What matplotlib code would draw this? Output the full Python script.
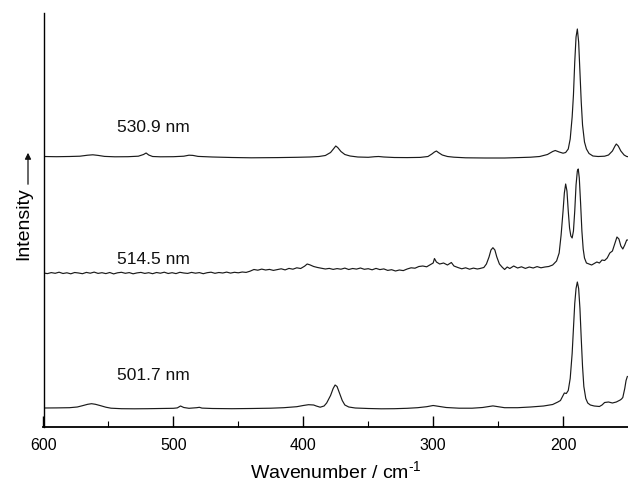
import matplotlib
matplotlib.use("Agg")
import matplotlib.pyplot as plt
from matplotlib.patches import FancyArrowPatch
from matplotlib.ticker import FixedLocator

plt.rcParams['font.family'] = ['Liberation Sans', 'DejaVu Sans']
plt.rcParams['mathtext.fontset'] = 'custom'
plt.rcParams['mathtext.rm'] = 'Liberation Sans'
plt.rcParams['mathtext.it'] = 'Liberation Sans:italic'

# ---------------- data: (wavenumber / cm-1, intensity, arbitrary units) ----------------
labels = ["530.9 nm", "514.5 nm", "501.7 nm"]
offsets = [270, 154, 18.5]

spectrum_530 = [
    (600, 0.5), (590, 0.3), (580, 0.5), (572, 0.8), (566, 1.8), (562, 2.2), (558, 1.6), (553, 0.6),
    (545, 0.2), (535, 0.3), (527, 0.8), (523, 2.5), (521, 4.0), (519, 2.0), (516, 0.5), (510, 0.2),
    (500, 0.3), (492, 0.8), (488, 1.8), (485, 1.6), (481, 0.6), (470, 0.0), (455, -0.5), (440, -0.8),
    (420, -0.6), (405, -0.3), (395, 0.0), (388, 0.5), (383, 1.5), (379, 4.5), (376.5, 8.5), (375, 11.0),
    (373.5, 9.5), (371, 5.5), (368, 2.5), (364, 1.0), (358, 0.0), (350, -0.3), (345, 0.3), (342, 0.5),
    (338, 0.0), (330, -0.5), (320, -0.6), (310, -0.4), (304, 0.5), (301, 3.0), (299, 5.0), (297.5, 6.0),
    (296, 4.5), (293, 2.0), (289, 0.5), (284, -0.2), (275, -0.8), (260, -1.0), (245, -1.0), (232, -0.5),
    (225, -0.2), (218, 0.5), (212, 2.5), (208, 5.5), (206, 6.5), (203, 5.0), (200, 3.8), (198, 4.5),
    (196, 8.0), (194.5, 18), (193, 40), (192, 62), (191, 95), (190, 120), (189, 128), (188, 115),
    (187, 85), (186, 55), (185, 32), (183.5, 15), (182, 8), (180, 3.5), (177, 1.0), (173, 0.5),
    (168, 0.8), (165, 2.0), (162, 6.0), (160, 11), (159, 13), (157.5, 11), (155.5, 6.0), (153, 2.0),
    (151, 0.5), (150, 0.3),
]

spectrum_514 = [
    (600, 0.0), (597, -0.6), (594, 0.4), (591, -0.3), (588, 0.8), (585, -0.5), (582, 0.2), (579, -0.8),
    (576, 0.5), (573, 0.0), (570, -0.7), (567, 0.6), (564, -0.2), (561, 0.9), (558, -0.4), (555, 0.3),
    (552, -0.6), (549, 0.5), (546, -0.9), (543, 0.2), (540, 0.7), (537, -0.3), (534, 0.4), (531, -0.8),
    (528, 0.1), (525, 0.6), (522, -0.4), (519, 0.3), (516, -0.7), (513, 0.5), (510, -0.2), (507, 0.8),
    (504, -0.5), (501, 0.3), (498, -0.6), (495, 0.7), (492, 0.0), (489, -0.4), (486, 0.6), (483, -0.2),
    (480, 0.4), (477, -0.7), (474, 0.3), (471, 0.8), (468, -0.3), (465, 0.5), (462, 0.0), (459, 0.9),
    (456, -0.1), (453, 0.7), (450, 0.2), (447, 1.0), (444, 0.6), (441, 1.8), (438, 3.5), (435, 2.8),
    (432, 3.9), (429, 3.0), (426, 3.6), (423, 2.6), (420, 3.4), (417, 4.2), (414, 3.1), (411, 4.6),
    (408, 3.8), (405, 5.2), (402, 4.5), (399, 6.8), (397, 9.0), (395, 8.2), (392, 6.5), (389, 5.5),
    (386, 4.8), (383, 4.0), (380, 4.6), (377, 3.6), (374, 4.4), (371, 3.8), (368, 4.9), (365, 3.5),
    (362, 4.5), (359, 3.9), (356, 5.0), (353, 3.7), (350, 4.3), (347, 3.2), (344, 4.6), (341, 3.4),
    (338, 4.1), (335, 2.6), (332, 3.3), (329, 2.0), (326, 3.0), (323, 2.4), (320, 4.0), (317, 5.2),
    (314, 4.8), (311, 6.5), (308, 7.0), (305, 6.2), (302, 8.5), (300, 10.0), (299, 14.5), (297.5, 11.0),
    (295, 9.0), (292, 10.0), (289, 8.0), (286, 10.5), (284, 7.0), (281, 5.5), (278, 4.2), (275, 5.2),
    (272, 3.8), (269, 4.9), (266, 4.0), (264, 4.5), (261, 5.5), (259, 9.0), (257, 16.0), (255.5, 23.0),
    (254, 25.3), (252.5, 23.0), (251, 16.0), (249, 9.0), (247, 6.0), (245, 3.5), (243, 6.0), (241, 4.5),
    (238, 7.0), (235, 5.0), (232, 6.2), (229, 4.6), (226, 6.0), (223, 5.0), (220, 6.4), (217, 5.2),
    (214, 6.0), (211, 6.5), (208, 8.0), (205, 12.0), (203, 20.0), (201.5, 38.0), (200, 62.0), (199, 80.0),
    (198, 89.0), (197, 82.0), (196, 62.0), (195, 45.0), (194, 37.0), (193, 35.0), (192, 42.0), (191, 62.0),
    (190, 88.0), (189, 102.0), (188.3, 104.0), (187.5, 95.0), (186.5, 70.0), (185.5, 42.0), (184.5, 24.0),
    (183.5, 15.0), (182, 10.0), (180, 9.0), (178, 8.0), (176, 9.5), (174, 11.0), (172, 10.0), (170, 13.0),
    (168, 12.5), (166, 15.0), (164, 20.0), (162, 22.0), (160, 30.0), (158.5, 36.0), (157, 34.0),
    (155.5, 27.0), (154, 24.0), (152.5, 28.0), (151, 33.0), (150, 33.0),
]

spectrum_501 = [
    (600, 0.5), (590, 0.6), (580, 0.8), (574, 1.5), (570, 2.8), (566, 4.2), (563, 4.8), (560, 4.2),
    (556, 2.8), (552, 1.3), (548, 0.3), (540, -0.2), (530, -0.3), (520, -0.2), (510, 0.0), (500, 0.2),
    (497, 0.6), (494.5, 2.5), (492, 1.0), (488, 0.2), (482, 0.8), (480, 1.2), (478, 0.4), (470, 0.0),
    (455, -0.2), (440, 0.0), (425, 0.3), (415, 0.8), (405, 1.8), (400, 3.0), (396, 3.8), (392, 3.5),
    (390, 2.5), (387, 1.3), (384, 2.5), (382, 5.5), (379, 13.0), (377, 20.0), (375.5, 23.5), (374, 22.0),
    (372, 15.0), (370, 8.0), (368, 3.5), (365, 1.5), (360, 0.5), (350, 0.0), (340, -0.3), (330, -0.2),
    (320, 0.2), (312, 0.8), (305, 1.8), (300, 3.0), (296, 2.2), (290, 1.0), (280, 0.3), (270, 0.3),
    (262, 1.0), (258, 1.8), (254, 2.6), (250, 1.8), (245, 0.8), (235, 0.8), (225, 1.5), (215, 2.5),
    (208, 4.0), (204, 6.5), (202, 8.0), (200, 13.0), (199, 15.5), (197.5, 15.0), (196, 18.0), (194.5, 30.0),
    (193, 55.0), (192, 80.0), (191, 105.0), (190, 120.0), (189, 126.5), (188, 120.0), (187, 100.0),
    (186, 70.0), (185, 42.0), (184, 22.0), (182.5, 10.0), (181, 5.5), (179, 3.5), (176, 2.5), (172, 2.0),
    (170, 3.5), (168, 6.0), (165, 6.5), (162, 5.5), (159, 6.5), (156, 8.5), (155, 9.5), (154, 11.0),
    (152.5, 20.0), (151.5, 28.0), (150.5, 32.0),
]

x_ticks_major = [600, 500, 400, 300, 200]
x_ticks_minor = [550, 450, 350, 250]

# ---------------- figure ----------------
W, H = 628, 484
fig = plt.figure(figsize=(W / 100, H / 100), dpi=100)
ax_left, ax_right, ax_top, ax_bottom = 43.5, 628, 13, 427
ax = fig.add_axes([ax_left / W, 1 - ax_bottom / H, (ax_right - ax_left) / W, (ax_bottom - ax_top) / H])

for spec, off in zip([spectrum_530, spectrum_514, spectrum_501], offsets):
    xs = [p[0] for p in spec]
    ys = [p[1] + off for p in spec]
    ax.plot(xs, ys, color='#1a1a1a', lw=0.85)

label_y = [300, 168, 52]
for lab, ly in zip(labels, label_y):
    ax.text(543.5, ly, lab, fontsize=12.5, ha='left', va='center', color='#111')

ax.set_xlim(600, 150)
ax.set_ylim(0, 414)
ax.spines['top'].set_visible(False)
ax.spines['right'].set_visible(False)
ax.spines['left'].set_linewidth(1.0)
ax.spines['bottom'].set_linewidth(1.3)
ax.set_yticks([])
ax.xaxis.set_major_locator(FixedLocator(x_ticks_major))
ax.xaxis.set_minor_locator(FixedLocator(x_ticks_minor))
ax.tick_params(axis='x', which='major', direction='in', length=8, width=1.0, labelsize=11.5, pad=8)
ax.tick_params(axis='x', which='minor', direction='in', length=4, width=0.8)
ax.set_xlabel("Wavenumber / cm$^{\\mathregular{\u20101}}$", fontsize=14, labelpad=5)

# y label with arrow
fig.text(24 / W, 1 - 224 / H, "Intensity", rotation=90, fontsize=14, ha='center', va='center')
fig.patches.append(FancyArrowPatch(
    (28 / W, 1 - 187 / H), (28 / W, 1 - 150 / H), transform=fig.transFigure,
    arrowstyle='-|>', mutation_scale=9, lw=0.9, color='#111'))

fig.savefig("out.png", dpi=100)
